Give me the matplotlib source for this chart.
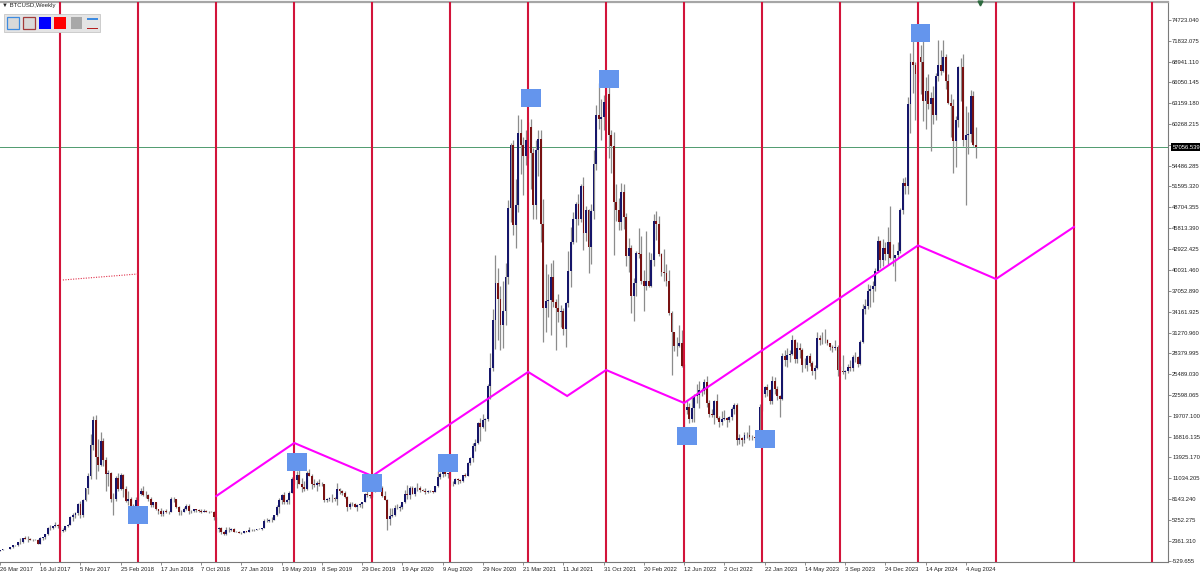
import numpy as np
import matplotlib
matplotlib.use("Agg")
import matplotlib.pyplot as plt
import matplotlib.transforms as mtransforms
from matplotlib.patches import Rectangle

plt.rcParams['font.family'] = ['Liberation Sans', 'DejaVu Sans']

# Weekly BTCUSD candles in thousands of USD, first bar = week of 26 Mar 2017
opens = [
    # 2017
    0.97, 1.08, 1.17, 1.17, 1.24, 1.42, 1.71, 1.77, 2.19, 2.19, 2.70, 2.66, 2.60, 2.50, 2.50, 2.52, 1.93, 2.73, 2.87, 3.24,
    4.10, 4.09, 4.38, 4.60, 4.35, 3.70, 3.88, 4.40, 4.60, 5.70, 6.00, 6.15, 7.40, 5.95, 8.00, 9.70, 11.40, 15.70, 19.10, 14.00, 12.90,
    # 2018
    16.20, 13.60, 11.60, 11.75, 8.20, 8.10, 11.10, 9.60, 11.50, 9.60, 7.90, 8.10, 6.80, 6.95, 8.00, 8.90, 9.20, 8.70, 8.70, 8.20,
    7.35, 7.70, 6.75, 6.45, 6.10, 6.50, 6.30, 6.35, 8.20, 8.15, 7.00, 6.30, 6.40, 6.70, 7.20, 6.50, 6.50, 6.70, 6.60, 6.50,
    6.30, 6.45, 6.40, 6.40, 6.35, 5.60, 4.00, 4.10, 3.60, 3.25, 3.90, 3.85,
    # 2019
    4.00, 3.60, 3.55, 3.45, 3.42, 3.65, 3.62, 3.85, 3.82, 3.90, 4.00, 4.02, 4.15, 5.05, 5.15, 5.30, 5.28, 5.90, 7.00, 8.00,
    8.70, 7.80, 8.00, 9.00, 11.00, 10.80, 11.50, 10.30, 9.80, 9.50, 11.80, 11.40, 10.20, 10.10, 10.40, 10.30, 10.25, 8.00, 8.20, 8.30,
    8.30, 8.20, 9.55, 9.20, 9.05, 8.50, 7.10, 7.40, 7.50, 7.10, 7.30, 7.40,
    # 2020
    7.75, 8.90, 8.70, 8.60, 9.30, 9.90, 9.90, 9.70, 8.55, 8.05, 5.40, 5.80, 5.90, 6.85, 6.90, 7.10, 7.70, 8.90, 8.70, 9.70,
    8.90, 9.70, 9.75, 9.40, 9.30, 9.10, 9.25, 9.28, 9.15, 9.90, 11.20, 11.60, 11.85, 11.65, 11.70, 10.25, 10.30, 10.90, 10.75, 10.65,
    11.50, 11.37, 13.10, 13.80, 15.50, 16.00, 18.70, 18.20, 19.20, 19.25, 23.80, 26.40,
    # 2021
    33.00, 38.20, 36.00, 32.30, 34.30, 39.00, 48.60, 57.40, 46.20, 49.00, 59.00, 57.30, 55.80, 58.00, 59.80, 56.20, 49.00, 56.60, 58.20, 46.40,
    34.70, 35.70, 35.80, 39.00, 35.60, 34.70, 34.20, 34.30, 31.80, 35.40, 39.80, 43.90, 47.00, 49.20, 47.10, 51.70, 45.10, 48.30, 43.20, 48.20,
    54.70, 61.50, 60.90, 61.30, 63.30, 64.40, 58.70, 57.20, 49.40, 48.30, 46.70, 50.80,
    # 2022
    47.30, 41.90, 43.10, 36.30, 38.20, 42.40, 42.20, 38.40, 37.70, 38.40, 37.80, 41.30, 46.80, 46.40, 42.20, 39.70, 39.50, 38.50, 34.00, 31.30,
    29.40, 29.45, 29.90, 26.60, 20.50, 21.00, 19.30, 20.80, 22.50, 22.60, 23.30, 23.10, 24.40, 21.50, 20.00, 19.80, 21.80, 19.40, 18.80, 19.30,
    19.40, 19.20, 19.60, 20.60, 21.20, 16.30, 16.60, 16.40, 17.10, 17.10, 16.80, 16.83,
    # 2023
    16.60, 17.10, 20.90, 22.70, 23.70, 23.30, 21.80, 24.60, 23.50, 22.40, 22.10, 28.00, 27.50, 28.20, 28.30, 30.30, 27.60, 29.20, 28.80, 26.80,
    26.75, 28.00, 27.10, 25.90, 26.30, 30.50, 30.30, 30.20, 30.25, 29.80, 29.30, 29.10, 29.30, 26.10, 26.00, 25.80, 25.90, 26.50, 26.30, 27.90,
    27.95, 26.90, 30.00, 34.50, 35.00, 37.10, 37.30, 37.70, 39.90, 44.00, 41.40, 43.00, 42.20,
    # 2024
    43.90, 41.70, 41.60, 42.00, 42.60, 48.30, 52.10, 51.70, 63.10, 68.90, 68.40, 67.20, 69.60, 68.90, 63.50, 64.90, 63.10, 63.90, 61.50, 66.90,
    68.50, 67.70, 69.60, 66.20, 63.20, 62.70, 57.90, 60.80, 68.20, 68.25, 58.10, 58.70, 58.90, 64.20, 57.30,
]
highs = [
    1.10, 1.21, 1.22, 1.25, 1.43, 1.80, 1.83, 2.20, 2.76, 2.80, 2.98, 2.99, 2.80, 2.60, 2.65, 2.55, 2.93, 2.90, 3.29, 4.20,
    4.48, 4.45, 4.98, 4.70, 4.40, 4.13, 4.42, 4.65, 5.85, 6.20, 6.30, 7.60, 7.88, 8.10, 9.75, 11.80, 17.20, 19.70, 19.80, 16.50, 17.40,
    16.70, 14.00, 12.20, 11.90, 9.00, 11.30, 11.80, 11.70, 11.60, 9.90, 9.20, 8.50, 7.50, 8.40, 9.00, 9.70, 9.90, 9.30, 8.80, 8.50,
    7.80, 7.80, 6.80, 6.85, 6.60, 6.80, 6.50, 8.40, 8.50, 8.20, 7.15, 6.60, 7.00, 7.40, 7.40, 6.60, 6.80, 6.80, 6.70, 6.70,
    6.80, 6.60, 6.50, 6.55, 6.50, 5.65, 4.30, 4.30, 3.70, 4.20, 4.20, 4.10,
    4.10, 3.70, 3.65, 3.50, 3.70, 3.70, 4.20, 3.95, 3.95, 4.05, 4.10, 4.15, 5.35, 5.50, 5.40, 5.60, 5.95, 7.30, 8.30, 8.90,
    9.10, 8.20, 9.30, 11.20, 13.90, 12.00, 13.20, 11.10, 10.60, 12.00, 12.30, 11.60, 10.90, 10.60, 10.90, 10.50, 10.30, 8.30, 8.50, 8.80,
    8.40, 10.40, 9.70, 9.40, 9.20, 8.60, 7.80, 7.75, 7.60, 7.50, 7.60, 7.80,
    9.00, 9.20, 8.80, 9.60, 10.15, 10.50, 10.30, 10.00, 9.20, 8.15, 6.90, 6.90, 7.30, 7.45, 7.30, 7.70, 9.45, 10.05, 9.90, 9.90,
    9.80, 10.40, 9.95, 9.60, 9.70, 9.35, 9.45, 9.30, 10.00, 12.00, 11.90, 12.05, 12.45, 11.80, 12.10, 10.60, 11.10, 11.05, 10.95, 11.55,
    11.70, 13.35, 14.00, 15.90, 16.50, 18.90, 19.40, 19.90, 19.40, 24.20, 28.40, 34.50,
    42.00, 40.20, 37.80, 38.50, 40.90, 49.70, 57.60, 58.00, 52.60, 61.50, 61.00, 58.40, 59.50, 60.50, 61.00, 57.00, 58.00, 59.40, 59.50, 49.80,
    40.80, 39.40, 40.90, 41.30, 36.00, 36.60, 35.10, 34.70, 35.50, 42.60, 46.00, 48.10, 49.40, 50.50, 51.90, 52.90, 48.90, 48.40, 49.20, 56.60,
    62.90, 66.00, 63.70, 64.30, 67.00, 66.00, 59.50, 59.10, 51.90, 50.00, 52.00, 51.90,
    47.90, 44.40, 43.50, 38.90, 42.60, 45.80, 44.70, 40.00, 45.40, 42.50, 42.30, 47.70, 48.20, 47.50, 42.40, 42.90, 40.80, 40.00, 34.30, 31.40,
    30.60, 32.30, 31.70, 26.90, 21.90, 21.50, 22.40, 22.70, 24.20, 24.60, 23.60, 24.90, 25.20, 21.90, 20.60, 21.85, 22.80, 19.70, 20.40, 20.50,
    19.60, 19.70, 21.00, 21.50, 21.50, 17.20, 16.80, 17.40, 17.40, 18.40, 17.00, 16.90,
    17.20, 21.30, 23.30, 23.80, 24.20, 23.40, 25.20, 25.10, 23.90, 22.60, 28.50, 28.90, 29.10, 28.80, 31.00, 30.40, 30.00, 29.80, 29.20, 27.70,
    28.20, 28.40, 27.40, 26.80, 31.40, 31.00, 31.40, 31.80, 30.40, 29.90, 29.50, 30.20, 29.60, 26.60, 28.10, 26.10, 26.90, 27.50, 28.10, 28.60,
    28.00, 30.30, 35.20, 35.90, 38.00, 37.90, 38.40, 40.20, 44.70, 44.20, 44.30, 43.80, 45.90,
    48.90, 43.60, 42.10, 43.90, 48.60, 52.80, 52.90, 64.00, 70.10, 72.90, 68.90, 71.70, 71.20, 72.00, 66.80, 67.20, 64.70, 65.50, 67.40, 71.90,
    70.60, 71.90, 70.00, 67.20, 64.50, 63.80, 61.40, 68.30, 69.40, 70.00, 62.70, 62.00, 65.00, 64.90, 59.90,
]
lows = [
    0.93, 1.06, 1.14, 1.16, 1.23, 1.40, 1.60, 1.69, 1.85, 2.10, 2.55, 2.20, 2.47, 2.30, 2.45, 1.85, 1.85, 2.45, 2.62, 3.20,
    3.90, 3.94, 4.30, 4.10, 2.98, 3.55, 3.68, 4.20, 4.55, 5.10, 5.55, 6.00, 5.50, 5.60, 7.90, 8.90, 11.00, 15.00, 11.00, 12.00, 12.80,
    12.80, 9.20, 10.00, 7.70, 6.00, 7.90, 9.30, 9.40, 8.40, 7.70, 7.30, 6.60, 6.45, 6.65, 7.85, 8.70, 8.60, 8.30, 7.90, 7.10,
    7.05, 6.60, 6.10, 5.80, 5.80, 6.20, 6.10, 6.30, 7.80, 6.90, 6.00, 5.90, 6.30, 6.60, 6.10, 6.20, 6.30, 6.40, 6.40, 6.20,
    6.30, 6.35, 6.20, 6.30, 5.20, 3.60, 3.50, 3.30, 3.20, 3.20, 3.55, 3.70,
    3.50, 3.50, 3.40, 3.30, 3.40, 3.55, 3.60, 3.70, 3.70, 3.85, 3.95, 3.90, 4.10, 4.90, 5.00, 5.00, 5.25, 5.80, 6.20, 7.50,
    7.45, 7.45, 7.50, 8.95, 10.30, 9.70, 10.20, 9.10, 9.30, 9.40, 11.30, 9.50, 9.80, 9.30, 9.90, 9.90, 7.80, 7.70, 7.90, 7.80,
    7.90, 7.30, 8.90, 8.70, 8.30, 6.50, 6.80, 7.20, 7.00, 6.50, 7.10, 6.90,
    7.70, 8.50, 8.30, 8.50, 9.10, 9.70, 9.30, 8.40, 8.00, 3.85, 4.50, 5.70, 5.85, 6.70, 6.50, 6.80, 7.65, 8.10, 8.20, 8.80,
    8.60, 9.30, 9.10, 9.20, 8.90, 9.00, 9.15, 9.05, 9.10, 9.85, 11.00, 11.20, 11.30, 11.10, 9.90, 9.90, 10.20, 10.30, 10.35, 10.50,
    11.20, 11.30, 12.90, 13.30, 14.80, 15.80, 16.20, 18.00, 17.60, 19.00, 22.00, 26.00,
    29.00, 30.30, 28.80, 29.20, 32.30, 38.00, 46.60, 44.90, 43.00, 48.00, 53.30, 50.40, 54.60, 55.50, 51.30, 47.00, 47.10, 53.00, 43.80, 30.00,
    31.30, 33.40, 31.00, 34.80, 28.80, 32.70, 32.10, 31.00, 29.30, 34.80, 37.60, 43.60, 43.90, 46.30, 46.60, 42.80, 44.00, 39.60, 40.80, 47.10,
    53.90, 59.60, 58.00, 59.50, 62.30, 55.60, 53.50, 42.00, 46.80, 45.50, 45.60, 45.70,
    40.60, 39.70, 34.00, 32.90, 36.30, 41.70, 38.00, 34.30, 37.20, 37.60, 37.60, 40.50, 44.20, 41.90, 39.20, 38.50, 37.70, 33.70, 25.40, 28.70,
    28.00, 29.30, 26.50, 17.60, 19.90, 18.70, 18.90, 18.90, 21.50, 20.80, 22.40, 22.70, 21.00, 19.60, 19.50, 18.60, 19.30, 18.20, 18.50, 19.10,
    18.20, 18.80, 19.20, 20.00, 15.60, 15.80, 15.50, 16.00, 16.70, 16.40, 16.40, 16.30,
    16.50, 17.00, 20.40, 22.30, 22.50, 21.40, 21.40, 22.70, 21.90, 19.60, 21.90, 26.60, 26.50, 27.20, 28.20, 27.10, 27.00, 27.70, 25.80, 26.40,
    25.90, 26.60, 25.40, 24.80, 26.20, 29.50, 29.70, 29.90, 29.50, 28.90, 28.60, 28.90, 25.20, 25.80, 25.50, 24.90, 25.60, 26.00, 26.00, 27.20,
    26.50, 26.80, 29.80, 33.90, 34.60, 34.80, 35.60, 37.10, 39.80, 40.20, 40.60, 41.40, 40.70,
    41.50, 40.60, 38.50, 41.70, 42.30, 47.70, 50.60, 50.50, 59.00, 64.60, 60.80, 66.10, 64.50, 60.70, 59.60, 62.40, 56.50, 60.20, 60.80, 66.30,
    67.10, 67.50, 65.10, 63.00, 58.40, 53.50, 54.30, 59.90, 63.50, 57.20, 49.00, 56.10, 57.80, 57.20, 55.60,
]
closes = [
    1.08, 1.17, 1.17, 1.24, 1.42, 1.71, 1.77, 2.19, 2.19, 2.70, 2.66, 2.60, 2.50, 2.50, 2.52, 1.93, 2.73, 2.87, 3.24, 4.10,
    4.09, 4.38, 4.60, 4.35, 3.70, 3.88, 4.40, 4.60, 5.70, 6.00, 6.15, 7.40, 5.95, 8.00, 9.70, 11.40, 15.70, 19.10, 14.00, 12.90, 16.20,
    13.60, 11.60, 11.75, 8.20, 8.10, 11.10, 9.60, 11.50, 9.60, 7.90, 8.10, 6.80, 6.95, 8.00, 8.90, 9.20, 8.70, 8.70, 8.20, 7.35,
    7.70, 6.75, 6.45, 6.10, 6.50, 6.30, 6.35, 8.20, 8.15, 7.00, 6.30, 6.40, 6.70, 7.20, 6.50, 6.50, 6.70, 6.60, 6.50, 6.30,
    6.45, 6.40, 6.40, 6.35, 5.60, 4.00, 4.10, 3.60, 3.25, 3.90, 3.85, 4.00,
    3.60, 3.55, 3.45, 3.42, 3.65, 3.62, 3.85, 3.82, 3.90, 4.00, 4.02, 4.15, 5.05, 5.15, 5.30, 5.28, 5.90, 7.00, 8.00, 8.70,
    7.80, 8.00, 9.00, 11.00, 10.80, 11.50, 10.30, 9.80, 9.50, 11.80, 11.40, 10.20, 10.10, 10.40, 10.30, 10.25, 8.00, 8.20, 8.30, 8.30,
    8.20, 9.55, 9.20, 9.05, 8.50, 7.10, 7.40, 7.50, 7.10, 7.30, 7.40, 7.75,
    8.90, 8.70, 8.60, 9.30, 9.90, 9.90, 9.70, 8.55, 8.05, 5.40, 5.80, 5.90, 6.85, 6.90, 7.10, 7.70, 8.90, 8.70, 9.70, 8.90,
    9.70, 9.75, 9.40, 9.30, 9.10, 9.25, 9.28, 9.15, 9.90, 11.20, 11.60, 11.85, 11.65, 11.70, 10.25, 10.30, 10.90, 10.75, 10.65, 11.50,
    11.37, 13.10, 13.80, 15.50, 16.00, 18.70, 18.20, 19.20, 19.25, 23.80, 26.40, 33.00,
    38.20, 36.00, 32.30, 34.30, 39.00, 48.60, 57.40, 46.20, 49.00, 59.00, 57.30, 55.80, 58.00, 59.80, 56.20, 49.00, 56.60, 58.20, 46.40, 34.70,
    35.70, 35.80, 39.00, 35.60, 34.70, 34.20, 34.30, 31.80, 35.40, 39.80, 43.90, 47.00, 49.20, 47.10, 51.70, 45.10, 48.30, 43.20, 48.20, 54.70,
    61.50, 60.90, 61.30, 63.30, 64.40, 58.70, 57.20, 49.40, 48.30, 46.70, 50.80, 47.30,
    41.90, 43.10, 36.30, 38.20, 42.40, 42.20, 38.40, 37.70, 38.40, 37.80, 41.30, 46.80, 46.40, 42.20, 39.70, 39.50, 38.50, 34.00, 31.30, 29.40,
    29.45, 29.90, 26.60, 20.50, 21.00, 19.30, 20.80, 22.50, 22.60, 23.30, 23.10, 24.40, 21.50, 20.00, 19.80, 21.80, 19.40, 18.80, 19.30, 19.40,
    19.20, 19.60, 20.60, 21.20, 16.30, 16.60, 16.40, 17.10, 17.10, 16.80, 16.83, 16.60,
    17.10, 20.90, 22.70, 23.70, 23.30, 21.80, 24.60, 23.50, 22.40, 22.10, 28.00, 27.50, 28.20, 28.30, 30.30, 27.60, 29.20, 28.80, 26.80, 26.75,
    28.00, 27.10, 25.90, 26.30, 30.50, 30.30, 30.20, 30.25, 29.80, 29.30, 29.10, 29.30, 26.10, 26.00, 25.80, 25.90, 26.50, 26.30, 27.90, 27.95,
    26.90, 30.00, 34.50, 35.00, 37.10, 37.30, 37.70, 39.90, 44.00, 41.40, 43.00, 42.20, 43.90,
    41.70, 41.60, 42.00, 42.60, 48.30, 52.10, 51.70, 63.10, 68.90, 68.40, 67.20, 69.60, 68.90, 63.50, 64.90, 63.10, 63.90, 61.50, 66.90, 68.50,
    67.70, 69.60, 66.20, 63.20, 62.70, 57.90, 60.80, 68.20, 68.25, 58.10, 58.70, 58.90, 64.20, 57.30, 57.056,
]

last_price = 57.056539

# time-cycle lines (bar index) and drawn objects
cycle_weeks = [24, 55, 86, 117, 148, 179, 210, 241, 272, 303, 334, 365, 396, 427, 458]
zig_weeks = [86, 117, 148, 210, 225.5, 241, 272, 365, 396, 427]
zig_prices = [8.57, 15.94, 11.35, 25.81, 22.47, 26.08, 21.50, 43.39, 38.73, 45.96]
dot_weeks = [25, 55]
dot_prices = [38.59, 39.43]
box_weeks = [55, 118, 148, 178, 211, 242, 273, 304, 366]
box_prices = [5.93, 13.23, 10.34, 13.16, 63.88, 66.52, 16.91, 16.50, 72.85]

xtick_labels = ['26 Mar 2017', '16 Jul 2017', '5 Nov 2017', '25 Feb 2018', '17 Jun 2018', '7 Oct 2018',
                '27 Jan 2019', '19 May 2019', '8 Sep 2019', '29 Dec 2019', '19 Apr 2020', '9 Aug 2020',
                '29 Nov 2020', '21 Mar 2021', '11 Jul 2021', '31 Oct 2021', '20 Feb 2022', '12 Jun 2022',
                '2 Oct 2022', '22 Jan 2023', '14 May 2023', '3 Sep 2023', '24 Dec 2023', '14 Apr 2024', '4 Aug 2024']
ytick_labels = ['74723.040', '71832.075', '68941.110', '66050.145', '63159.180', '60268.215', '57377.250',
                '54486.285', '51595.320', '48704.355', '45813.390', '42922.425', '40031.460', '37052.890',
                '34161.925', '31270.960', '28379.995', '25489.030', '22598.065', '19707.100', '16816.135',
                '13925.170', '11034.205', '8143.240', '5252.275', '2361.310', '-529.655']

o = np.array(opens)
h = np.array(highs)
l = np.array(lows)
c = np.array(closes)
weeks = np.arange(len(c))

W, H = 1200, 575
fig = plt.figure(figsize=(W / 100, H / 100), dpi=100)
fig.patch.set_facecolor('white')
ax = fig.add_axes([0, 13 / H, 1168 / W, 560.5 / H])
ax.set_facecolor('white')

# candles
ax.vlines(weeks, l, h, colors='#8c8c8c', linewidth=0.9, zorder=2)
up = c >= o
ax.bar(weeks, np.abs(c - o), bottom=np.minimum(o, c), width=0.75,
       color=np.where(up, '#16166a', '#781212'), linewidth=0, zorder=3)

ax.axhline(last_price, color='#4f9a6e', lw=0.7, zorder=1.5)

for wk in cycle_weeks:
    ax.axvline(wk, color='#d2143a', lw=1.5, zorder=4)

ax.plot(zig_weeks, zig_prices, color='#ff00ff', lw=1.5, zorder=5, solid_joinstyle='miter')
ax.plot(dot_weeks, dot_prices, color='#e0304a', lw=0.8, ls=(0, (1, 1.3)), zorder=5)

for bw, bp in zip(box_weeks, box_prices):
    ax.add_patch(Rectangle((bw - 3.97, bp - 1.25), 7.94, 2.5, fc='#6495ed', ec='none', zorder=6))

ax.set_xlim(2.3 / 2.52, 1170.3 / 2.52)
ax.set_ylim(-0.60, 77.29)

# axes frame
ax.spines['left'].set_visible(False)
ax.spines['top'].set_color('#a6a6a6')
ax.spines['top'].set_linewidth(1.6)
for s in ('right', 'bottom'):
    ax.spines[s].set_color('#7a7a7a')
    ax.spines[s].set_linewidth(0.8)

ax.yaxis.tick_right()
ax.set_yticks([float(t) / 1000 for t in ytick_labels])
ax.set_yticklabels(ytick_labels)
ax.set_xticks(np.arange(0, 16 * len(xtick_labels), 16))
ax.set_xticklabels(xtick_labels)
for lab in ax.get_xticklabels():
    lab.set_horizontalalignment('left')
ax.tick_params(axis='both', labelsize=4.2, labelcolor='#222222', color='#7a7a7a',
               length=2, width=0.6, pad=1.5)
ax.tick_params(axis='y', pad=1.0)

# current price tag
trans = mtransforms.blended_transform_factory(ax.transAxes, ax.transData)
trans = mtransforms.offset_copy(trans, fig=fig, x=4.5, y=0, units='dots')
ax.text(1.0, last_price, '57056.539', transform=trans, fontsize=4.2, color='white',
        ha='left', va='center', clip_on=False, zorder=10,
        bbox=dict(boxstyle='square,pad=0.3', fc='black', ec='none'))

ax.plot([980 / 1168], [0.998], marker='v', ms=3.5, color='#2d6a3e',
        transform=ax.transAxes, clip_on=False, zorder=10)

# chart header and toolbar
fig.text(2 / W, 1 - 6 / H, '\u25bc BTCUSD,Weekly', fontsize=4.3, color='#222222',
         ha='left', va='center')


def px_rect(x0, y0, x1, y1, **kw):
    fig.add_artist(Rectangle((x0 / W, 1 - y1 / H), (x1 - x0) / W, (y1 - y0) / H,
                             transform=fig.transFigure, **kw))


px_rect(4, 14, 100, 32, fc='#e4e4e4', ec='#c6c6c6', lw=0.6)
px_rect(7, 17.3, 19.3, 29.3, fc='#d9d9d9', ec='#3d8be0', lw=0.9)
px_rect(22.7, 17.3, 35, 29.3, fc='#d9d9d9', ec='#a33a3a', lw=0.9)
px_rect(39, 17.3, 50.7, 29.3, fc='#0000ff', ec='none')
px_rect(54.3, 17.3, 66, 29.3, fc='#ff0000', ec='none')
px_rect(70.7, 17.3, 81.7, 29.3, fc='#a8a8a8', ec='none')
px_rect(86.7, 18.3, 97.7, 20, fc='#3d8be0', ec='none')
px_rect(86.7, 27.5, 97.7, 29.2, fc='#b52020', ec='none')

fig.savefig('out.png', dpi=100)
